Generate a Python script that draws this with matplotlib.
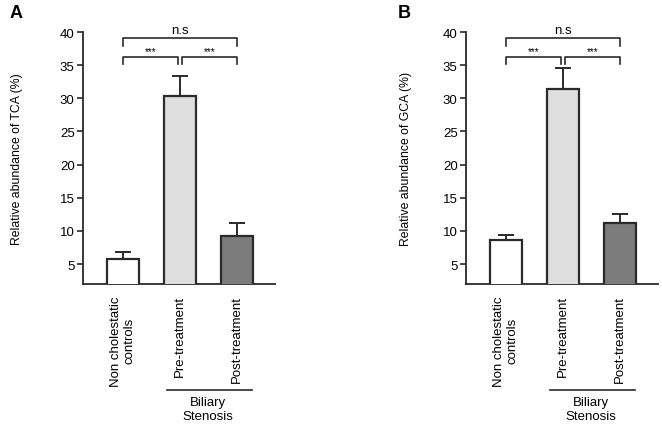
import matplotlib
matplotlib.use("Agg")
import matplotlib.pyplot as plt
from matplotlib.transforms import blended_transform_factory

plt.rcParams['font.family'] = ['Liberation Sans', 'DejaVu Sans']

categories = ["Non cholestatic\ncontrols", "Pre-treatment", "Post-treatment"]
tca_means = [5.8, 30.4, 9.3]
tca_errs = [1.0, 3.0, 1.9]
gca_means = [8.6, 31.4, 11.2]
gca_errs = [0.8, 3.1, 1.4]
ylabels = ["Relative abundance of TCA (%)", "Relative abundance of GCA (%)"]
panel_letters = ["A", "B"]
yticks = [5, 10, 15, 20, 25, 30, 35, 40]
bar_colors = ["#ffffff", "#dedede", "#7c7c7c"]
group_label = "Biliary\nStenosis"

W, H = 662, 427
fig = plt.figure(figsize=(W / 100, H / 100), dpi=100)

panels = [
    (83, 275, tca_means, tca_errs, 60),
    (466, 658, gca_means, gca_errs, 54),
]
edge = "#2a2a2a"
for i, (x0, x1, means, errs, lab_off) in enumerate(panels):
    ax = fig.add_axes([x0 / W, (H - 285) / H, (x1 - x0) / W, (285 - 33) / H])
    x = [0, 1, 2]
    ax.bar(x, means, width=0.56, color=bar_colors, edgecolor=edge, linewidth=1.6, zorder=3)
    ax.errorbar(x, means, yerr=[[0, 0, 0], errs], fmt='none', ecolor=edge,
                elinewidth=1.4, capsize=5.5, capthick=1.4, zorder=2)
    ax.set_ylim(2, 40)
    ax.set_xlim(-0.7, 2.67)
    ax.set_yticks(yticks)
    ax.set_xticks(x)
    ax.set_xticklabels(categories, rotation=90, ha='center', va='top',
                       multialignment='center', fontsize=9.5)
    ax.tick_params(axis='x', length=0, pad=8)
    ax.tick_params(axis='y', length=4, width=1.2, labelsize=9.5, pad=2, color=edge)
    for s in ['top', 'right']:
        ax.spines[s].set_visible(False)
    ax.spines['left'].set_linewidth(1.3)
    ax.spines['bottom'].set_linewidth(1.3)
    ax.spines['left'].set_color(edge)
    ax.spines['bottom'].set_color(edge)
    ax.set_ylabel(ylabels[i], fontsize=8.8)
    ax.yaxis.set_label_coords(-lab_off / (x1 - x0), 0.5)

    # brackets
    lw = 1.2
    ax.plot([0, 0, 2, 2], [37.9, 39.05, 39.05, 37.9], color=edge, lw=lw, clip_on=False)
    ax.text(1, 39.4, "n.s", ha='center', va='bottom', fontsize=9.5)
    ax.plot([0, 0, 0.96, 0.96], [35.2, 36.2, 36.2, 35.2], color=edge, lw=lw, clip_on=False)
    ax.plot([1.04, 1.04, 2, 2], [35.2, 36.2, 36.2, 35.2], color=edge, lw=lw, clip_on=False)
    ax.text(0.48, 36.3, "***", ha='center', va='bottom', fontsize=7)
    ax.text(1.52, 36.3, "***", ha='center', va='bottom', fontsize=7)

    # group line
    tr = blended_transform_factory(ax.transData, ax.transAxes)
    ax.plot([0.77, 2.26], [-0.42, -0.42], color=edge, lw=1.2, transform=tr, clip_on=False)
    ax.text(1.5, -0.445, group_label, ha='center', va='top', fontsize=9.5,
            transform=tr, linespacing=1.2)

fig.text(10 / W, 1 - 14 / H, "A", fontsize=13, fontweight='bold', ha='left', va='center')
fig.text(398 / W, 1 - 14 / H, "B", fontsize=13, fontweight='bold', ha='left', va='center')

fig.savefig("out.png", dpi=100)
